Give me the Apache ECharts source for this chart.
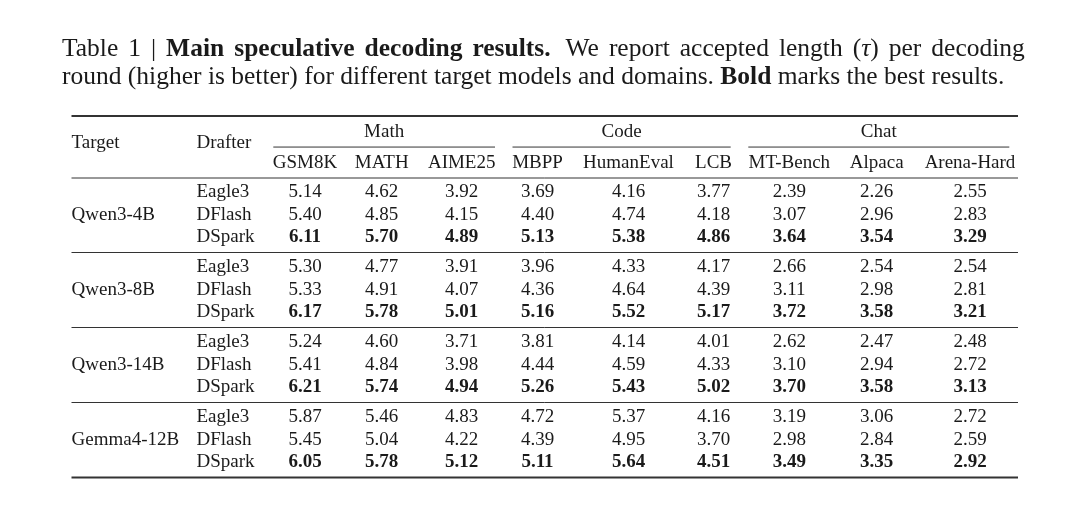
<!DOCTYPE html>
<html>
<head>
<meta charset="utf-8">
<script src="https://cdn.jsdelivr.net/npm/echarts@6/dist/echarts.min.js"></script>
<style>
  html, body { margin: 0; padding: 0; background: #fff; }
  #main { width: 1080px; height: 510px; }
</style>
</head>
<body>
<div id="main"></div>
<script>
// table content
var domains = ['Math', 'Code', 'Chat'];
var benchmarks = ['GSM8K', 'MATH', 'AIME25', 'MBPP', 'HumanEval', 'LCB', 'MT-Bench', 'Alpaca', 'Arena-Hard'];
var targets = ['Qwen3-4B', 'Qwen3-8B', 'Qwen3-14B', 'Gemma4-12B'];
var drafters = ['Eagle3', 'DFlash', 'DSpark'];

// rows: Eagle3, DFlash, DSpark
var qwen3_4b = [
  [5.14, 4.62, 3.92, 3.69, 4.16, 3.77, 2.39, 2.26, 2.55],
  [5.40, 4.85, 4.15, 4.40, 4.74, 4.18, 3.07, 2.96, 2.83],
  [6.11, 5.70, 4.89, 5.13, 5.38, 4.86, 3.64, 3.54, 3.29]
];
var qwen3_8b = [
  [5.30, 4.77, 3.91, 3.96, 4.33, 4.17, 2.66, 2.54, 2.54],
  [5.33, 4.91, 4.07, 4.36, 4.64, 4.39, 3.11, 2.98, 2.81],
  [6.17, 5.78, 5.01, 5.16, 5.52, 5.17, 3.72, 3.58, 3.21]
];
var qwen3_14b = [
  [5.24, 4.60, 3.71, 3.81, 4.14, 4.01, 2.62, 2.47, 2.48],
  [5.41, 4.84, 3.98, 4.44, 4.59, 4.33, 3.10, 2.94, 2.72],
  [6.21, 5.74, 4.94, 5.26, 5.43, 5.02, 3.70, 3.58, 3.13]
];
var gemma4_12b = [
  [5.87, 5.46, 4.83, 4.72, 5.37, 4.16, 3.19, 3.06, 2.72],
  [5.45, 5.04, 4.22, 4.39, 4.95, 3.70, 2.98, 2.84, 2.59],
  [6.05, 5.78, 5.12, 5.11, 5.64, 4.51, 3.49, 3.35, 2.92]
];
var results = [qwen3_4b, qwen3_8b, qwen3_14b, gemma4_12b];

// caption, line 1 is justified word by word: [style, word]
var captionLine1 = [
  ['n', 'Table'], ['n', '1'], ['n', '|'], ['b', 'Main'], ['b', 'speculative'],
  ['b', 'decoding'], ['b', 'results.'], ['n', 'We'], ['n', 'report'], ['n', 'accepted'],
  ['n', 'length'], ['n', '(', 'i', 'τ', 'n', ')'], ['n', 'per'], ['n', 'decoding']
];
var captionLine2 = '{n|round (higher is better) for different target models and domains. }{b|Bold}{n| marks the best results.}';

// layout (table units on x, row units on y)
var targetX = 0, drafterX = 125;
var benchX = [233.5, 310.2, 390.2, 466, 557, 642, 717.8, 805.2, 898.5];
var domainSpans = [[201.8, 423.5], [441, 659.2], [676.8, 937.8]];
var tableWidth = 946.5;
var groupPitch = 3.3333;
var rowY = function (g, r) { return g * groupPitch + r; };

var FONT = '"Liberation Serif", "Times New Roman", serif';
var INK = '#1a1a1a';

var cells = [];
function cell(x, y, text, align, bold) {
  cells.push({ x: x, y: y, text: text, align: align, bold: !!bold });
}
cell(targetX, -2.22, 'Target', 'left');
cell(drafterX, -2.22, 'Drafter', 'left');
domains.forEach(function (d, i) {
  cell((domainSpans[i][0] + domainSpans[i][1]) / 2, -2.67, d, 'center');
});
benchmarks.forEach(function (b, j) { cell(benchX[j], -1.31, b, 'center'); });

results.forEach(function (block, g) {
  cell(targetX, rowY(g, 1), targets[g], 'left');
  drafters.forEach(function (d, r) {
    cell(drafterX, rowY(g, r), d, 'left');
    block[r].forEach(function (v, j) {
      var best = Math.max.apply(null, block.map(function (row) { return row[j]; }));
      cell(benchX[j], rowY(g, r), v.toFixed(2), 'center', v === best);
    });
  });
});

// rules: [x1, x2, y, lineWidth]
var rules = [
  [0, tableWidth, -3.4, 1.8],
  [0, tableWidth, -0.644, 1],
  [0, tableWidth, 12.667, 1.8]
];
domainSpans.forEach(function (s) { rules.push([s[0], s[1], -2.02, 1]); });
for (var g = 0; g < targets.length - 1; g++) {
  rules.push([0, tableWidth, rowY(g, 2.667), 1]);
}

var CAP = 25.5;
var capStyle = function (extra) {
  return Object.assign({ fontFamily: FONT, fontSize: CAP, color: INK, fontWeight: 'normal', lineHeight: 28.5 }, extra || {});
};

var line1 = captionLine1.map(function (w, k) {
  var s = '';
  for (var m = 0; m < w.length; m += 2) s += '{' + w[m] + '|' + w[m + 1] + '}';
  if (k < captionLine1.length - 1) s += (w[1] === 'results.') ? '{ss| }' : '{s| }';
  return s;
}).join('');

var chart = echarts.init(document.getElementById('main'));
chart.setOption({
  animation: false,
  title: {
    left: 62,
    top: 35,
    padding: 0,
    text: line1 + '\n' + captionLine2,
    textStyle: {
      fontWeight: 'normal',
      rich: {
        n: capStyle(),
        b: capStyle({ fontWeight: 'bold' }),
        i: capStyle({ fontStyle: 'italic' }),
        s: capStyle({ width: 10 }),
        ss: capStyle({ width: 15 })
      }
    }
  },
  grid: { left: 71.5, right: 62, top: 102.5, height: 393.75 },
  xAxis: { type: 'value', min: 0, max: tableWidth, show: false },
  yAxis: { type: 'value', inverse: true, min: -4, max: 13.5, show: false },
  series: [
    {
      type: 'custom',
      data: rules.map(function (r, i) { return [r[0], r[2], i]; }),
      encode: { x: 0, y: 1 },
      renderItem: function (params, api) {
        var r = rules[api.value(2)];
        var p1 = api.coord([r[0], r[2]]);
        var p2 = api.coord([r[1], r[2]]);
        return {
          type: 'line',
          shape: { x1: p1[0], y1: p1[1], x2: p2[0], y2: p2[1] },
          style: { stroke: '#333', lineWidth: r[3] }
        };
      }
    },
    {
      type: 'custom',
      data: cells.map(function (c, i) { return [c.x, c.y, i]; }),
      encode: { x: 0, y: 1 },
      renderItem: function (params, api) {
        var c = cells[api.value(2)];
        var p = api.coord([c.x, c.y]);
        return {
          type: 'text',
          style: {
            x: p[0], y: p[1],
            text: c.text,
            align: c.align,
            verticalAlign: 'middle',
            fontFamily: FONT,
            fontSize: 19,
            fontWeight: c.bold ? 'bold' : 'normal',
            fill: INK
          }
        };
      }
    }
  ]
});
</script>
</body>
</html>
